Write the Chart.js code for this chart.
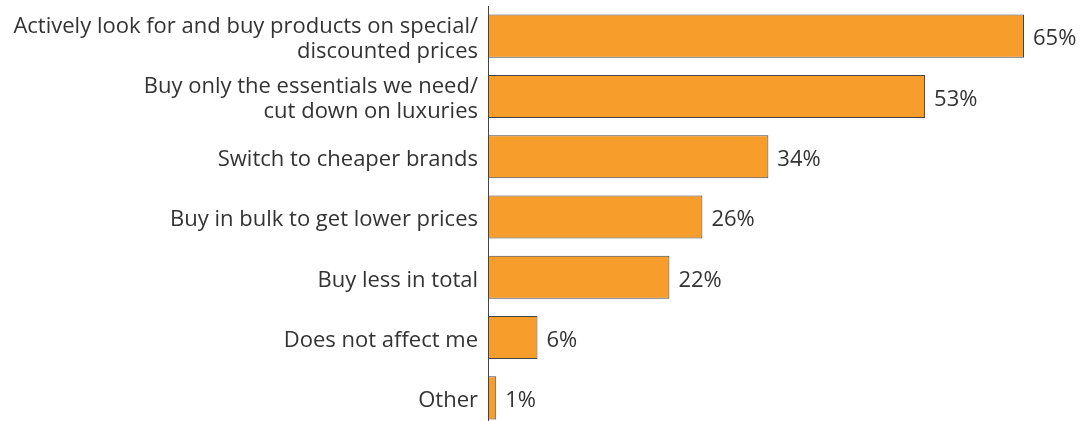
<!DOCTYPE html>
<html><head><meta charset="utf-8">
<script src="https://cdn.jsdelivr.net/npm/chart.js@4"></script>
<style>html,body{margin:0;padding:0;overflow:hidden;background:#fff}#wrap{width:1089px;height:428px}</style>
</head><body><div id="wrap"><canvas id="c" width="1089" height="428"></canvas></div>
<script>
const categories = [
  ["Actively look for and buy products on special/", "discounted prices"],
  ["Buy only the essentials we need/", "cut down on luxuries"],
  "Switch to cheaper brands",
  "Buy in bulk to get lower prices",
  "Buy less in total",
  "Does not affect me",
  "Other"
];
const values = [65, 53, 34, 26, 22, 6, 1];
const valueLabels = ["65%", "53%", "34%", "26%", "22%", "6%", "1%"];

const FONT = "'Open Sans', 'Noto Sans', sans-serif";
const labelPlugin = {
  id: 'valueLabels',
  afterDatasetsDraw(chart) {
    const ctx = chart.ctx;
    const meta = chart.getDatasetMeta(0);
    ctx.save();
    ctx.font = "22px " + FONT;
    ctx.fillStyle = "#333333";
    ctx.textBaseline = "middle";
    ctx.textAlign = "left";
    meta.data.forEach((bar, i) => {
      ctx.fillText(valueLabels[i], bar.x + 9, bar.y + 3);
    });
    ctx.restore();
  }
};

new Chart(document.getElementById('c'), {
  type: 'bar',
  data: {
    labels: categories,
    datasets: [{
      data: values,
      backgroundColor: '#F79D2B',
      borderColor: '#444444',
      borderWidth: 1,
      borderSkipped: false,
      barPercentage: 0.715,
      categoryPercentage: 1
    }]
  },
  options: {
    indexAxis: 'y',
    responsive: false,
    animation: false,
    devicePixelRatio: 1,
    layout: { padding: { top: 6, right: 65, bottom: 0, left: 0 } },
    plugins: { legend: { display: false }, tooltip: { enabled: false } },
    scales: {
      x: {
        min: 0, max: 65,
        display: false
      },
      y: {
        afterFit(s) { s.width = 488; s.paddingTop = 0; s.paddingBottom = 0; },
        grid: { display: false, drawTicks: false },
        border: { display: true, color: '#444444', width: 1 },
        ticks: {
          color: '#333333',
          font: { family: FONT, size: 22, lineHeight: 1.15 },
          padding: 10,
          labelOffset: 3,
          autoSkip: false
        }
      }
    }
  },
  plugins: [labelPlugin]
});
</script></body></html>
